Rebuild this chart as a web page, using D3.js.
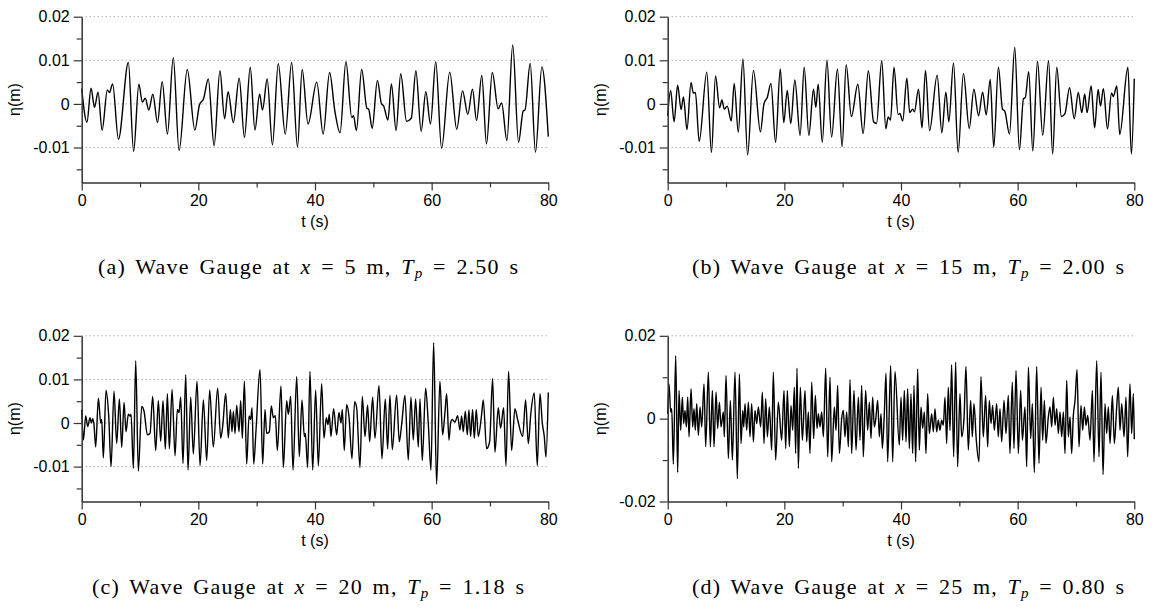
<!doctype html>
<html>
<head>
<meta charset="UTF-8">
<title>Wave gauges</title>
<script src="https://d3js.org/d3.v7.min.js"></script>
<style>
  body { margin: 0; background: #fff; }
</style>
</head>
<body>
<script>
// surface elevation, [t (s), eta (mm)]
var gaugeA = [[0,3.5],[0.9,-4.2],[1.6,3.6],[2.2,-0.8],[2.8,2.7],[3.5,-6.0],[4.4,3.2],[4.75,2.6],[5.3,4.6],[6.3,-8.1],[8.0,9.5],[8.9,-10.9],[9.8,4.5],[10.4,0.4],[10.9,1.3],[11.5,-1.4],[12.2,2.2],[13.0,-4.3],[13.8,5.1],[14.7,-6.9],[15.7,10.6],[16.7,-10.7],[18.1,7.9],[19.4,-6.0],[20.2,-0.2],[20.9,1.2],[21.7,5.7],[22.7,-9.6],[23.7,7.6],[24.5,-3.4],[25.1,2.8],[26.0,-4.3],[27.0,5.9],[27.9,-7.7],[28.9,8.4],[29.7,-6.0],[30.5,2.2],[31.0,-1.4],[31.8,5.7],[32.7,-9.4],[33.7,9.2],[34.9,-6.9],[36.0,9.5],[37.0,-9.9],[37.8,7.9],[38.8,-4.6],[40.3,5.0],[41.4,-6.9],[42.5,7.2],[43.4,-1.6],[44.3,-6.6],[45.3,9.7],[46.3,-3.1],[46.6,-2.7],[47.1,-6.1],[48.0,7.9],[48.9,-1.0],[49.2,-1.2],[49.8,-5.6],[50.7,5.4],[51.4,0.0],[51.75,-0.4],[52.5,-3.7],[53.1,4.6],[53.9,-6.1],[54.7,6.9],[55.7,-4.0],[56.5,-3.3],[57.3,7.6],[58.2,-6.3],[59.0,2.8],[59.8,-4.6],[60.7,9.7],[61.7,-10.2],[63.1,7.3],[64.3,-5.8],[65.3,3.0],[66.2,-2.4],[67.0,3.4],[67.7,-3.8],[68.6,6.5],[69.4,-9.2],[70.4,7.2],[71.4,-1.1],[72.0,0.2],[72.9,-8.4],[73.9,13.5],[74.9,-8.8],[75.7,-1.6],[76.0,-1.4],[76.9,9.3],[77.8,-11.1],[78.9,8.5],[80.0,-7.5]];

var gaugeB = [[0,-2.7],[0.5,3.1],[1.1,-4.1],[1.7,4.3],[2.3,-1.3],[2.7,1.6],[3.3,-5.9],[4.0,4.9],[4.4,2.5],[4.75,2.6],[5.4,-8.6],[6.7,7.3],[7.5,-11.1],[8.2,6.4],[8.9,-0.9],[9.3,0.9],[9.7,-1.2],[10.2,-0.5],[10.9,-3.9],[11.4,4.7],[12.1,-6.5],[12.9,10.3],[13.7,-11.7],[14.7,7.7],[15.9,-6.4],[16.5,0],[17.1,1.6],[17.7,4.7],[18.5,-8.8],[19.3,8.0],[19.9,-4.3],[20.5,3.1],[21.1,-4.5],[21.8,5.5],[22.7,-7.2],[23.4,8.4],[24.2,-7.2],[25.0,3.4],[25.4,-0.8],[25.8,4.5],[26.5,-8.8],[27.3,10.0],[28.1,-7.6],[29.1,8.0],[29.9,-9.8],[30.6,9.0],[31.5,-2.9],[32.6,4.5],[33.5,-6.8],[34.4,7.6],[35.3,-4.1],[35.8,-4.5],[36.7,9.9],[37.4,-5.7],[37.8,-3.0],[38.2,-3.7],[38.8,8.4],[39.5,-2.4],[39.8,-2.2],[40.3,-3.9],[41.0,5.9],[41.5,-2.0],[42.0,-1.2],[42.3,-1.8],[43.0,3.4],[43.6,-5.5],[44.2,7.7],[44.9,-6.1],[46.2,6.6],[47.0,-6.6],[47.7,2.7],[48.2,-4.1],[49.0,9.4],[49.8,-11.1],[50.7,7.0],[51.7,-5.6],[52.5,3.4],[53.3,-2.7],[54.0,2.7],[54.6,-2.5],[55.3,5.6],[55.9,-9.9],[56.7,8.4],[57.4,-1.2],[57.8,-1.7],[58.6,-6.9],[59.5,13.0],[60.3,-10.5],[61.0,1.2],[61.3,1.4],[61.9,7.4],[62.6,-10.8],[63.4,9.8],[64.3,-7.2],[65.3,9.9],[66.0,-11.5],[66.7,8.4],[67.5,-2.9],[68.1,-2.3],[68.9,3.7],[69.7,-3.4],[70.4,2.6],[71.0,-2.0],[71.5,2.3],[71.9,-2.0],[72.6,4.1],[73.2,-5.5],[73.8,3.3],[74.2,-0.5],[74.7,3.5],[75.4,-5.7],[76.1,2.5],[76.4,1.7],[77.0,4.1],[77.5,-7.0],[78.9,8.4],[79.5,-11.5],[80.0,5.8]];

var gaugeC = [[0,3.1],[0.29,-3.9],[0.69,1.6],[1.03,-0.8],[1.43,1.2],[1.66,0],[1.89,1.0],[2.11,-0.4],[2.4,-5.5],[2.86,5.7],[3.26,0],[3.43,0.8],[3.71,-8.0],[4.17,7.5],[4.63,1.6],[5.03,-10.0],[5.54,7.3],[6.0,-4.7],[6.46,5.5],[6.86,-5.6],[7.26,4.7],[7.6,-2.0],[8.0,2.0],[8.29,1.6],[8.46,2.0],[8.86,-10.4],[9.26,14.3],[9.71,-11.0],[10.29,3.8],[10.69,2.7],[11.26,-2.7],[11.71,-2.4],[12.17,6.1],[12.69,-6.3],[13.14,5.1],[13.54,-4.2],[13.94,5.1],[14.34,-6.0],[14.69,6.7],[15.03,-5.9],[15.49,7.7],[16.0,-7.5],[16.4,3.1],[16.69,2.4],[16.97,5.9],[17.37,-9.3],[17.83,11.1],[18.23,-10.8],[18.69,5.9],[19.14,-7.1],[19.77,9.6],[20.29,-9.8],[20.86,5.3],[21.43,-8.6],[21.94,7.6],[22.57,-5.5],[23.31,8.0],[23.83,-3.5],[24.17,-0.8],[24.69,6.8],[25.14,-3.4],[25.49,3.1],[25.77,-2.0],[26.0,2.7],[26.29,-2.4],[26.57,4.1],[26.97,-2.0],[27.26,5.1],[27.54,-3.5],[27.89,9.6],[28.29,-9.4],[28.69,1.6],[28.97,0.8],[29.2,3.5],[29.49,-9.4],[29.89,-1.6],[30.57,12.3],[31.03,-9.4],[31.43,3.1],[31.71,-2.4],[32.17,-2.0],[32.51,3.9],[32.86,1.2],[33.2,1.7],[33.54,-6.3],[34.17,8.5],[34.57,-10.2],[35.14,5.1],[35.43,2.0],[35.83,6.1],[36.23,-10.8],[36.86,10.7],[37.31,-7.7],[37.77,5.3],[38.17,-3.1],[38.34,-2.4],[38.74,-10.2],[39.14,11.8],[39.6,-10.8],[40.11,7.5],[40.57,-9.8],[41.14,9.0],[41.54,-3.5],[41.94,1.2],[42.22,-0.4],[42.45,2.0],[42.74,-3.1],[43.19,3.3],[43.71,-2.7],[44.11,2.4],[44.45,0],[44.68,3.1],[45.02,-6.3],[45.42,4.2],[45.82,1.6],[46.34,-8.2],[46.79,4.9],[47.14,3.5],[47.71,-10.2],[48.11,6.1],[48.57,-3.1],[49.02,4.1],[49.37,-4.3],[49.88,5.9],[50.28,-3.5],[50.97,8.6],[51.48,-8.2],[52.05,5.5],[52.45,-5.9],[52.85,6.4],[53.25,-6.1],[53.99,6.4],[54.45,-4.3],[54.85,-0.4],[55.42,6.3],[55.99,-8.5],[56.45,5.9],[56.85,-3.9],[57.25,5.5],[57.71,-5.5],[58.0,5.5],[58.39,-8.6],[58.97,8.0],[59.42,0],[59.88,-10.8],[60.34,18.4],[60.85,-14.0],[61.42,9.6],[61.88,-2.7],[62.28,2.4],[62.57,6.7],[62.97,-3.9],[63.25,0],[63.54,0.8],[64.0,0.2],[64.45,1.7],[64.85,-1.6],[65.14,1.6],[65.42,-2.0],[65.77,2.7],[66.11,-2.7],[66.39,3.0],[66.68,-3.1],[67.02,3.1],[67.31,-3.5],[67.65,3.1],[67.99,-3.1],[68.57,2.0],[68.85,5.3],[69.42,-5.9],[69.94,-4.3],[70.45,10.2],[70.85,-6.7],[71.42,3.5],[71.82,-1.2],[72.34,3.5],[72.74,-9.8],[73.19,11.9],[73.71,-6.3],[74.28,3.3],[74.74,0.8],[75.6,-3.1],[76.11,5.3],[76.57,-4.7],[77.02,2.4],[77.59,6.9],[78.11,-9.8],[78.57,6.7],[78.97,0],[79.31,-3.1],[79.6,-7.8],[80.0,7.0]];

var gaugeD = [[0,1.2],[0.23,8.4],[0.51,1.6],[0.69,2.4],[0.97,-11.0],[1.37,15.2],[1.71,-13.0],[1.94,6.8],[2.23,-2.8],[2.51,5.2],[2.74,-1.2],[2.97,2.0],[3.2,-2.0],[3.43,5.2],[3.66,-4.4],[4.0,7.2],[4.29,-2.0],[4.51,2.4],[4.74,-2.8],[4.97,3.6],[5.26,-4.0],[5.54,2.8],[5.83,-2.0],[6.23,8.4],[6.51,-6.8],[6.97,11.2],[7.31,-6.8],[7.66,6.8],[7.94,-6.8],[8.29,6.4],[8.57,-2.4],[8.86,4.0],[9.14,-2.0],[9.54,1.6],[9.71,-4.4],[10.0,10.4],[10.4,-9.6],[10.74,4.4],[11.09,-10.0],[11.54,11.2],[11.94,-14.5],[12.29,10.8],[12.57,-6.0],[12.86,2.0],[13.03,-2.0],[13.26,3.6],[13.54,-2.8],[13.83,4.0],[14.11,-4.4],[14.4,3.6],[14.69,-5.6],[14.97,2.0],[15.26,-1.2],[15.54,2.8],[15.94,-2.0],[16.23,6.4],[16.51,-6.0],[16.8,4.8],[17.09,-4.4],[17.43,2.8],[17.83,-7.6],[18.11,11.2],[18.51,-10.0],[18.97,4.0],[19.54,-5.2],[19.94,6.8],[20.23,-7.2],[20.51,6.8],[20.86,-6.8],[21.14,3.2],[21.43,-2.8],[21.71,7.6],[21.94,-8.4],[22.17,12.2],[22.4,-12.0],[22.74,7.6],[23.09,-5.2],[23.54,6.8],[23.83,-5.6],[24.11,1.6],[24.4,-8.4],[24.69,8.8],[25.03,-4.8],[25.31,5.6],[25.6,-2.4],[25.83,1.2],[26.11,-2.0],[26.4,1.6],[26.69,-4.4],[27.09,12.2],[27.43,-9.2],[27.83,10.0],[28.11,-10.4],[28.57,2.8],[28.86,-2.8],[29.14,8.0],[29.43,-8.4],[29.83,0],[30.11,2.0],[30.4,-4.4],[30.69,1.6],[30.97,-6.8],[31.26,9.4],[31.54,-8.4],[31.94,6.8],[32.29,-7.6],[32.69,5.2],[32.97,-5.2],[33.26,8.0],[33.54,-9.2],[33.94,6.8],[34.29,-2.8],[34.57,4.0],[34.86,-4.8],[35.14,5.2],[35.43,-2.0],[35.71,0.4],[36.0,4.4],[36.29,-4.4],[36.57,1.2],[36.8,-7.2],[37.14,1.2],[37.43,11.0],[37.71,-10.4],[38.23,12.8],[38.57,-10.4],[38.97,11.4],[39.71,-6.4],[40.0,5.2],[40.28,-5.2],[40.57,6.8],[40.86,-5.6],[41.14,7.2],[41.43,-7.2],[41.71,6.0],[42.0,-8.4],[42.23,8.0],[42.51,-10.4],[42.86,12.0],[43.14,-7.6],[43.43,2.8],[43.71,-2.4],[44.0,1.6],[44.28,-8.4],[44.57,6.0],[44.86,-3.6],[45.26,1.2],[45.54,-3.2],[45.83,2.4],[46.11,-3.2],[46.4,-0.4],[46.68,-2.8],[46.97,-0.4],[47.26,-1.6],[47.54,5.2],[47.83,-6.0],[48.11,7.6],[48.4,-2.8],[48.68,13.0],[49.03,-9.2],[49.37,13.6],[49.71,-11.6],[50.11,6.0],[50.4,-4.4],[50.8,0],[51.14,12.6],[51.54,-7.6],[51.94,4.4],[52.23,-4.4],[52.51,3.6],[52.91,-5.2],[53.37,-10.4],[53.71,10.2],[54.11,-4.4],[54.51,5.6],[54.86,-6.8],[55.14,4.4],[55.43,-1.2],[55.71,3.2],[56.0,-2.8],[56.4,3.6],[56.68,-4.4],[56.97,2.4],[57.26,-5.6],[57.66,4.4],[58.0,-3.6],[58.4,5.6],[58.68,-8.4],[59.08,8.8],[59.37,-7.2],[59.72,11.6],[60.12,-8.4],[60.52,6.8],[60.81,-5.2],[61.26,2.8],[61.55,-11.6],[61.84,12.4],[62.24,-4.8],[62.52,3.6],[62.86,-13.0],[63.26,12.6],[63.66,-10.8],[64.01,7.6],[64.29,-5.2],[64.58,4.4],[64.86,-6.0],[65.26,0.4],[65.55,2.8],[65.84,-2.0],[66.12,5.2],[66.41,-1.6],[66.69,2.4],[66.98,-3.6],[67.26,1.6],[67.55,-4.4],[67.84,1.6],[68.12,-8.4],[68.41,9.2],[68.69,-4.4],[68.98,0.4],[69.26,-8.4],[69.55,0.8],[69.84,4.4],[70.18,11.8],[70.52,-6.8],[70.86,3.2],[71.15,-2.8],[71.44,2.8],[71.72,-1.6],[72.01,0.8],[72.41,-5.2],[72.81,6.8],[73.09,-10.4],[73.55,14.0],[73.95,-9.2],[74.29,11.2],[74.64,-13.5],[74.98,3.6],[75.26,-3.6],[75.55,2.8],[75.84,-6.0],[76.24,5.6],[76.58,-6.0],[76.98,2.8],[77.26,7.6],[77.55,-2.8],[77.84,3.6],[78.24,-4.4],[78.58,5.2],[78.86,-9.2],[79.26,8.4],[79.55,-3.6],[79.84,6.0],[80.0,-5.0]];

var xTicks = [0, 20, 40, 60, 80];
var xMinor = [10, 30, 50, 70];
var yTicksABC = [-0.01, 0, 0.01, 0.02];
var yMinorABC = [-0.015, -0.005, 0.005, 0.015];
var yTicksD = [-0.02, 0, 0.02];
var yMinorD = [-0.01, 0.01];

var capLabels = ["a", "b", "c", "d"];
var gaugeX = ["5", "15", "20", "25"];
var peakT = ["2.50", "2.00", "1.18", "0.80"];

var w = 1153, h = 608;
var pw = 466.6, ph = 165.7;
var sans = "'Liberation Sans', Arial, sans-serif";

var svg = d3.select("body").append("svg")
    .attr("width", w)
    .attr("height", h);

var panels = [
    {data: gaugeA, left: 81.7,  top: 16.7,  dom: [-0.018, 0.02], major: yTicksABC, minor: yMinorABC, capX: 308, capW: 420},
    {data: gaugeB, left: 667.7, top: 16.7,  dom: [-0.018, 0.02], major: yTicksABC, minor: yMinorABC, capX: 908, capW: 432},
    {data: gaugeC, left: 81.7,  top: 335.8, dom: [-0.018, 0.02], major: yTicksABC, minor: yMinorABC, capX: 308, capW: 432},
    {data: gaugeD, left: 667.7, top: 335.8, dom: [-0.02, 0.02],  major: yTicksD,   minor: yMinorD,   capX: 908, capW: 432}
];

panels.forEach(function(p, i){ drawPanel(p, i); });

function drawPanel(p, i){
    var g = svg.append("g").attr("transform", "translate(" + p.left + "," + p.top + ")");
    var x = d3.scaleLinear().domain([0, 80]).range([0, pw]);
    var y = d3.scaleLinear().domain(p.dom).range([ph, 0]);

    // dotted grid at the labelled levels
    g.selectAll(".grid")
        .data(p.major.filter(function(d){ return d > p.dom[0]; }))
        .enter().append("line")
        .attr("x1", 0).attr("x2", pw)
        .attr("y1", function(d){ return y(d); })
        .attr("y2", function(d){ return y(d); })
        .attr("stroke", "#8a8a8a")
        .attr("stroke-width", 1)
        .attr("stroke-dasharray", "1,3");

    var line = d3.line()
        .x(function(d){ return x(d[0]); })
        .y(function(d){ return y(d[1] / 1000); })
        .curve(d3.curveMonotoneX);

    g.append("path")
        .datum(p.data)
        .attr("d", line)
        .attr("fill", "none")
        .attr("stroke", "#000")
        .attr("stroke-width", 1.4)
        .attr("stroke-linejoin", "round");

    // axes
    var xMin = g.append("g").attr("transform", "translate(0," + ph + ")")
        .call(d3.axisBottom(x).tickValues(xMinor).tickSize(5).tickFormat(""));
    xMin.select(".domain").remove();
    var xAx = g.append("g").attr("transform", "translate(0," + ph + ")")
        .call(d3.axisBottom(x).tickValues(xTicks).tickSize(8).tickSizeOuter(0).tickPadding(4));

    var yMin = g.append("g")
        .call(d3.axisLeft(y).tickValues(p.minor).tickSize(5).tickFormat(""));
    yMin.select(".domain").remove();
    var yAx = g.append("g")
        .call(d3.axisLeft(y).tickValues(p.major).tickSize(8).tickSizeOuter(0).tickPadding(4)
            .tickFormat(function(d){ return d === 0 ? "0" : String(d); }));

    [xMin, xAx, yMin, yAx].forEach(function(a){
        a.selectAll("line").attr("stroke", "#333").attr("stroke-width", 1.2);
        a.selectAll(".domain").attr("stroke", "#333").attr("stroke-width", 1.5);
        a.selectAll("text").attr("fill", "#000")
            .style("font-family", sans).style("font-size", "16px");
    });

    g.append("text")
        .attr("x", pw / 2).attr("y", ph + 45)
        .attr("text-anchor", "middle")
        .style("font-family", sans).style("font-size", "16px")
        .text("t (s)");

    g.append("text")
        .attr("transform", "translate(-62," + (ph / 2) + ") rotate(-90)")
        .attr("text-anchor", "middle")
        .style("font-family", sans).style("font-size", "16px")
        .text("η(m)");

    // caption
    var cap = svg.append("text")
        .attr("x", p.capX).attr("y", p.top + ph + 92)
        .attr("text-anchor", "middle")
        .style("font-family", "'Liberation Serif', 'Times New Roman', serif")
        .style("font-size", "22px")
        .style("word-spacing", "3px");
    cap.append("tspan").text("(" + capLabels[i] + ") Wave Gauge at ");
    cap.append("tspan").style("font-style", "italic").text("x");
    cap.append("tspan").text(" = " + gaugeX[i] + " m, ");
    cap.append("tspan").style("font-style", "italic").text("T");
    cap.append("tspan").style("font-style", "italic").style("font-size", "15px").attr("dy", 4).text("p");
    cap.append("tspan").attr("dy", -4).text(" = " + peakT[i] + " s");
    cap.attr("textLength", p.capW).attr("lengthAdjust", "spacing");
}
</script>
</body>
</html>
